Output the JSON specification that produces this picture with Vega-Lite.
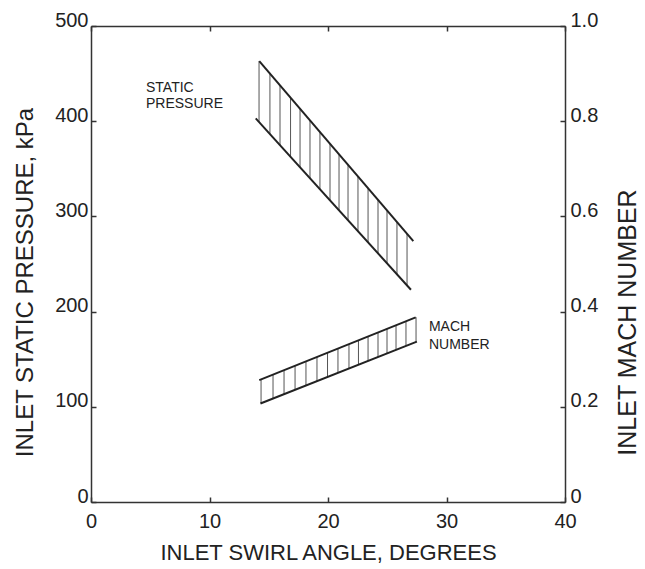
{
  "$schema": "https://vega.github.io/schema/vega-lite/v6.json",
  "width": 474,
  "height": 476,
  "autosize": "none",
  "padding": {"left": 91, "top": 26, "right": 80, "bottom": 67},
  "background": "white",
  "datasets": {
    "spHatch": [
      {"angle": 14.18, "hi": 463.0, "lo": 399.2},
      {"angle": 15.10, "hi": 449.9, "lo": 386.5},
      {"angle": 15.95, "hi": 437.6, "lo": 374.8},
      {"angle": 16.84, "hi": 424.6, "lo": 362.6},
      {"angle": 17.64, "hi": 413.0, "lo": 351.6},
      {"angle": 18.48, "hi": 400.8, "lo": 340.1},
      {"angle": 19.32, "hi": 388.6, "lo": 328.5},
      {"angle": 20.17, "hi": 376.2, "lo": 316.9},
      {"angle": 20.93, "hi": 365.1, "lo": 306.4},
      {"angle": 21.69, "hi": 354.1, "lo": 296.0},
      {"angle": 22.53, "hi": 341.9, "lo": 284.4},
      {"angle": 23.38, "hi": 329.5, "lo": 272.8},
      {"angle": 24.22, "hi": 317.3, "lo": 261.2},
      {"angle": 24.98, "hi": 306.3, "lo": 250.7},
      {"angle": 25.82, "hi": 294.0, "lo": 239.2},
      {"angle": 26.67, "hi": 281.7, "lo": 227.5}
    ],
    "spEdges": [
      {"edge": "upper", "angle": 14.2, "p": 463},
      {"edge": "upper", "angle": 27.2, "p": 274},
      {"edge": "lower", "angle": 13.9, "p": 403},
      {"edge": "lower", "angle": 27.0, "p": 223}
    ],
    "labels": [
      {"angle": 4.64, "p": 435, "text": "STATIC"},
      {"angle": 4.64, "p": 418, "text": "PRESSURE"},
      {"angle": 28.52, "p": 184, "text": "MACH"},
      {"angle": 28.52, "p": 165, "text": "NUMBER"}
    ],
    "mHatch": [
      {"angle": 14.35, "hi": 0.2575, "lo": 0.2075},
      {"angle": 15.36, "hi": 0.2676, "lo": 0.2174},
      {"angle": 16.29, "hi": 0.2769, "lo": 0.2266},
      {"angle": 17.22, "hi": 0.2862, "lo": 0.2358},
      {"angle": 18.14, "hi": 0.2954, "lo": 0.2448},
      {"angle": 19.07, "hi": 0.3047, "lo": 0.2540},
      {"angle": 19.96, "hi": 0.3136, "lo": 0.2628},
      {"angle": 20.84, "hi": 0.3224, "lo": 0.2714},
      {"angle": 21.77, "hi": 0.3317, "lo": 0.2806},
      {"angle": 22.57, "hi": 0.3397, "lo": 0.2885},
      {"angle": 23.38, "hi": 0.3478, "lo": 0.2964},
      {"angle": 24.22, "hi": 0.3562, "lo": 0.3047},
      {"angle": 24.98, "hi": 0.3638, "lo": 0.3122},
      {"angle": 25.74, "hi": 0.3714, "lo": 0.3197},
      {"angle": 26.58, "hi": 0.3798, "lo": 0.3280},
      {"angle": 27.43, "hi": 0.3883, "lo": 0.3363}
    ],
    "mEdges": [
      {"edge": "upper", "angle": 14.2, "m": 0.256},
      {"edge": "upper", "angle": 27.4, "m": 0.388},
      {"edge": "lower", "angle": 14.3, "m": 0.207},
      {"edge": "lower", "angle": 27.5, "m": 0.337}
    ]
  },
  "resolve": {"scale": {"y": "independent"}, "axis": {"x": "independent"}},
  "layer": [
    {
      "layer": [
        {
          "data": {"name": "spHatch"},
          "mark": {"type": "rule", "color": "#555", "strokeWidth": 1},
          "encoding": {
            "x": {"field": "angle", "type": "quantitative", "title": "INLET SWIRL ANGLE, DEGREES",
                  "scale": {"domain": [0, 40], "nice": false},
                  "axis": {"orient": "bottom", "values": [0, 10, 20, 30, 40]}},
            "y": {"field": "hi", "type": "quantitative", "title": "INLET STATIC PRESSURE, kPa",
                  "scale": {"domain": [0, 500], "nice": false},
                  "axis": {"orient": "left", "values": [0, 100, 200, 300, 400, 500]}},
            "y2": {"field": "lo"}
          }
        },
        {
          "data": {"name": "spEdges"},
          "mark": {"type": "line", "color": "#222", "strokeWidth": 2},
          "encoding": {
            "x": {"field": "angle", "type": "quantitative", "title": "INLET SWIRL ANGLE, DEGREES"},
            "y": {"field": "p", "type": "quantitative", "title": "INLET STATIC PRESSURE, kPa"},
            "detail": {"field": "edge"}
          }
        },
        {
          "data": {"name": "labels"},
          "mark": {"type": "text", "align": "left", "baseline": "middle", "font": "Liberation Sans", "fontSize": 14, "color": "#222"},
          "encoding": {
            "x": {"field": "angle", "type": "quantitative", "title": "INLET SWIRL ANGLE, DEGREES"},
            "y": {"field": "p", "type": "quantitative", "title": "INLET STATIC PRESSURE, kPa"},
            "text": {"field": "text"}
          }
        }
      ]
    },
    {
      "layer": [
        {
          "data": {"name": "mHatch"},
          "mark": {"type": "rule", "color": "#555", "strokeWidth": 1},
          "encoding": {
            "x": {"field": "angle", "type": "quantitative", "title": null,
                  "axis": {"orient": "top", "values": [0, 10, 20, 30, 40], "labels": false}},
            "y": {"field": "hi", "type": "quantitative", "title": "INLET MACH NUMBER",
                  "scale": {"domain": [0, 1], "nice": false},
                  "axis": {"orient": "right", "values": [0, 0.2, 0.4, 0.6, 0.8, 1.0],
                           "labelExpr": "datum.value == 0 ? '0' : format(datum.value, '.1f')"}},
            "y2": {"field": "lo"}
          }
        },
        {
          "data": {"name": "mEdges"},
          "mark": {"type": "line", "color": "#222", "strokeWidth": 2},
          "encoding": {
            "x": {"field": "angle", "type": "quantitative", "title": null},
            "y": {"field": "m", "type": "quantitative", "title": "INLET MACH NUMBER"},
            "detail": {"field": "edge"}
          }
        }
      ]
    }
  ],
  "config": {
    "view": {"stroke": null},
    "axis": {
      "grid": false,
      "domainColor": "#333",
      "domainWidth": 1.5,
      "tickColor": "#333",
      "tickWidth": 1.5,
      "tickSize": -5,
      "labelFont": "Liberation Sans",
      "labelFontSize": 20,
      "labelColor": "#222",
      "titleFont": "Liberation Sans",
      "titleFontWeight": "normal",
      "titleColor": "#222",
      "labelFlush": false,
      "labelOverlap": false
    },
    "axisLeft": {
      "labelBaseline": "alphabetic",
      "labelAlign": "right",
      "labelPadding": 8,
      "titleAngle": -90,
      "titleX": -66,
      "titleY": 256,
      "titleAlign": "center",
      "titleBaseline": "middle",
      "titleFontSize": 24
    },
    "axisRight": {
      "labelBaseline": "alphabetic",
      "labelAlign": "left",
      "labelPadding": 10,
      "titleAngle": -90,
      "titleX": 62,
      "titleY": 296,
      "titleAlign": "center",
      "titleBaseline": "middle",
      "titleFontSize": 25
    },
    "axisBottom": {
      "labelBaseline": "top",
      "labelPadding": 14,
      "titleY": 50,
      "titleBaseline": "middle",
      "titleFontSize": 22
    },
    "axisTop": {
      "labels": false
    }
  }
}
